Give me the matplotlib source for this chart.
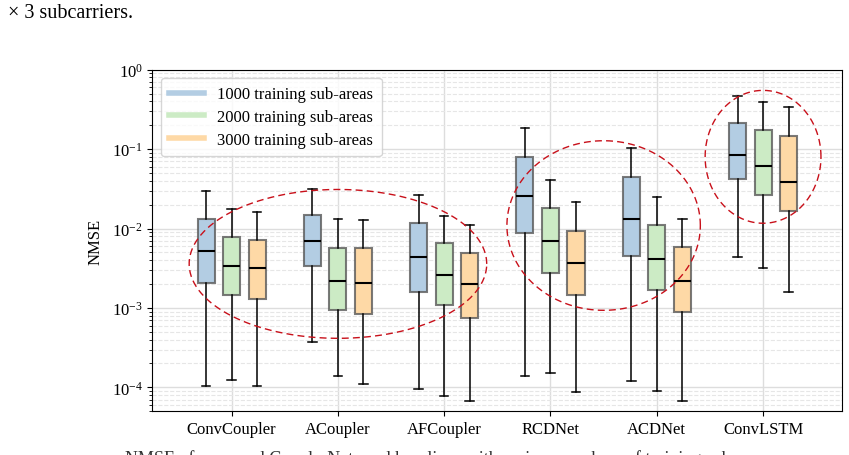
import numpy as np
import matplotlib
matplotlib.use("Agg")
import matplotlib.pyplot as plt
from matplotlib.lines import Line2D

plt.rcParams['font.family'] = ['Liberation Serif', 'DejaVu Serif']
plt.rcParams['mathtext.fontset'] = 'stix'

models = ["ConvCoupler", "ACoupler", "AFCoupler", "RCDNet", "ACDNet", "ConvLSTM"]
series_labels = ["1000 training sub-areas", "2000 training sub-areas", "3000 training sub-areas"]
colors = ["#b3cde3", "#ccebc5", "#fed9a6"]

# [whisker_low, Q1, median, Q3, whisker_high] per model
stats_1000 = [
    [1.03e-4, 0.00208, 0.00519, 0.0131, 0.0296],
    [3.76e-4, 0.00342, 0.00693, 0.0146, 0.0311],
    [9.5e-5, 0.00158, 0.0044, 0.0117, 0.0264],
    [1.39e-4, 0.0089, 0.0256, 0.0802, 0.1845],
    [1.21e-4, 0.00449, 0.0131, 0.0446, 0.102],
    [0.00436, 0.0421, 0.0844, 0.214, 0.473],
]
stats_2000 = [
    [1.25e-4, 0.00145, 0.00336, 0.0078, 0.0174],
    [1.4e-4, 0.00093, 0.00217, 0.00576, 0.0132],
    [7.7e-5, 0.00108, 0.00261, 0.00655, 0.0143],
    [1.53e-4, 0.00274, 0.00693, 0.0181, 0.0407],
    [8.9e-5, 0.0017, 0.00415, 0.0111, 0.0251],
    [0.00317, 0.0268, 0.0605, 0.176, 0.391],
]
stats_3000 = [
    [1.04e-4, 0.00129, 0.00316, 0.00726, 0.0163],
    [1.1e-4, 0.00085, 0.00205, 0.00576, 0.0129],
    [6.8e-5, 0.00075, 0.00202, 0.00498, 0.0112],
    [8.8e-5, 0.00145, 0.00373, 0.00944, 0.0215],
    [6.8e-5, 0.00088, 0.00219, 0.00582, 0.013],
    [0.00157, 0.0164, 0.0385, 0.146, 0.342],
]
all_stats = [stats_1000, stats_2000, stats_3000]

# ellipses: (center model index, width in groups, center log10, height in decades)
ellipse_centers_x = [1.0, 3.5, 5.0]
ellipse_widths = [2.80, 1.82, 1.09]
ellipse_centers_log = [-2.445, -1.962, -1.097]
ellipse_heights = [1.874, 2.135, 1.673]

fig = plt.figure(figsize=(8.49, 4.56), dpi=100)
ax = fig.add_axes([0.1796, 0.0958, 0.9914 - 0.1796, 0.845 - 0.0958])

x = np.arange(len(models))
offsets = [-0.24, 0.0, 0.24]
for si, stats in enumerate(all_stats):
    bxp = []
    for s in stats:
        bxp.append(dict(whislo=s[0], q1=s[1], med=s[2], q3=s[3], whishi=s[4], fliers=[]))
    ax.bxp(bxp, positions=x + offsets[si], widths=0.16, patch_artist=True,
           showfliers=False, manage_ticks=False,
           boxprops=dict(facecolor=colors[si], edgecolor=(0.35, 0.35, 0.35, 0.8), linewidth=1.5),
           medianprops=dict(color='black', linewidth=1.5),
           whiskerprops=dict(color='black', linewidth=1.1),
           capprops=dict(color='black', linewidth=1.1),
           zorder=3)

t = np.linspace(0, 2 * np.pi, 400)
for cx, w, cy, h in zip(ellipse_centers_x, ellipse_widths, ellipse_centers_log, ellipse_heights):
    ex = cx + (w / 2) * np.cos(t)
    ey = 10 ** (cy + (h / 2) * np.sin(t))
    ax.plot(ex, ey, color='#c8101a', linestyle=(0, (5, 3)), linewidth=1.0, zorder=4)

ax.set_yscale('log')
ax.set_ylim(5e-5, 1.0)
ax.set_xlim(-0.745, 5.74)
ax.set_xticks(x)
ax.set_xticklabels(models, fontsize=12)
ax.tick_params(axis='y', labelsize=12)
ax.set_ylabel("NMSE", fontsize=12, labelpad=6)

ax.grid(True, which='major', color='#dddddd', linewidth=1.0, zorder=0)
ax.grid(True, which='minor', axis='y', color='#e6e6e6', linestyle='--', linewidth=0.8, zorder=0)
ax.set_axisbelow(True)

handles = [Line2D([0], [0], color=c, linewidth=4) for c in colors]
ax.legend(handles, series_labels, loc='upper left', fontsize=12, frameon=True,
          framealpha=0.8, edgecolor='#cccccc', handlelength=2.1, handletextpad=0.8,
          borderpad=0.5, labelspacing=0.4)

fig.text(8 / 849, 1 - 14 / 456, "× 3 subcarriers.", fontsize=14.5, va='center', ha='left')
fig.text(125 / 849, 1 - 450 / 456,
         "NMSE of proposed CouplerNets and baselines with various numbers of training sub-areas",
         fontsize=13, va='top', ha='left', color='#333333')

fig.savefig("out.png", dpi=100)
